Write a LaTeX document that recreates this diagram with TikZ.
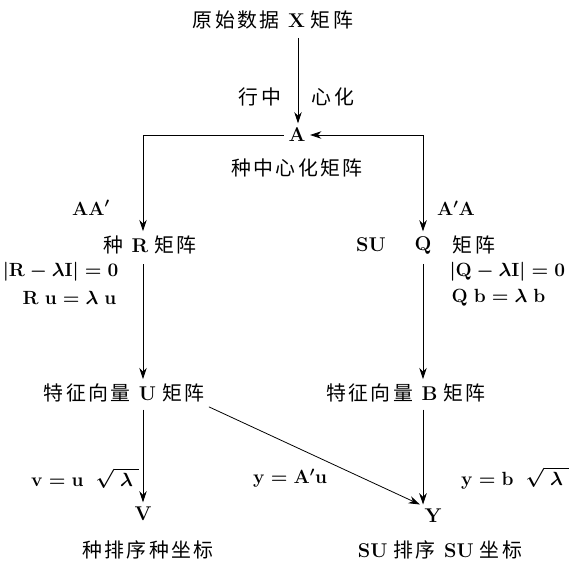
\documentclass[tikz,border=0pt]{standalone}
\usepackage{fontspec}
\newfontfamily\cjk{Noto Sans CJK SC}[LetterSpace=12]
\newcommand{\zh}[1]{{\cjk #1}}
\usetikzlibrary{arrows.meta}

\begin{document}
\begin{tikzpicture}[
    x=0.0265cm, y=-0.0265cm,
    font=\fontsize{15}{18}\selectfont,
    eq/.style={inner sep=1pt, font=\fontsize{14}{17}\selectfont\boldmath},
    map/.style={-{Stealth[length=3mm, width=2mm]}, semithick},
    twoway/.style={{Stealth[length=3mm, width=2mm]}-{Stealth[length=3mm, width=2mm]}, semithick},
]
    \useasboundingbox (0,0) rectangle (571,565);
    % matrices
    \node (data) at (273,20) {\zh{原始数据} \textbf{X} \zh{矩阵}};
    \node (A) at (297,135) {\textbf{A}};
    \node (center) at (297,168) {\zh{种中心化矩阵}};
    \node (R) at (150,245) {\zh{种} \textbf{R} \zh{矩阵}};
    \node (su) at (371,245) {\textbf{SU}};
    \node (Q) at (423,245) {\textbf{Q}};
    \node (Qmat) at (474,245) {\zh{矩阵}};
    \node (U) at (124,393) {\zh{特征向量} \textbf{U} \zh{矩阵}};
    \node (B) at (406,393) {\zh{特征向量} \textbf{B} \zh{矩阵}};
    \node (V) at (143,514) {\textbf{V}};
    \node (Y) at (433,516) {\textbf{Y}};
    \node (Vname) at (148,550) {\zh{种排序种坐标}};
    \node (Yname) at (440,550) {\textbf{SU} \zh{排序} \textbf{SU} \zh{坐标}};
    % corners of the split
    \coordinate (cl) at (143,135);
    \coordinate (cx) at (298,0);
    % labels
    \node (xing) at (260,97) {\zh{行中}};
    \node (xin) at (333,97) {\zh{心化}};
    \node[eq] (AAt) at (91,208) {$\mathbf{AA}'$};
    \node[eq] (AtA) at (456,208) {$\mathbf{A}'\mathbf{A}$};
    \node[eq, anchor=east] (eqR) at (120,272) {$|\mathbf{R}-\lambda\mathbf{I}|=0$};
    \node[eq, anchor=east] (solR) at (118,298) {$\mathbf{R}\ \mathbf{u}=\lambda\ \mathbf{u}$};
    \node[eq, anchor=west] (eqQ) at (448,272) {$|\mathbf{Q}-\lambda\mathbf{I}|=0$};
    \node[eq, anchor=west] (solQ) at (450,298) {$\mathbf{Q}\ \mathbf{b}=\lambda\ \mathbf{b}$};
    \node[eq] (vform) at (85,478) {$\mathbf{v}=\mathbf{u}\ \ \sqrt{\ \lambda\ }$};
    \node[eq] (yform) at (290,478) {$\mathbf{y}=\mathbf{A}'\mathbf{u}$};
    \node[eq] (yformB) at (515,478) {$\mathbf{y}=\mathbf{b}\ \ \sqrt{\ \lambda\ }$};
    % connectors
    \draw[map, shorten <=3pt] (data.south -| cx) -- (A.north -| cx);
    \draw[map] (A.west) -| (R.north -| cl);
    \draw[twoway] (A.east) -| (Q.north);
    \draw[map, shorten <=4pt] (R.south -| cl) -- (U.north -| cl);
    \draw[map, shorten <=4pt] (Q.south) -- (B.north -| Q);
    \draw[map, shorten <=2pt] (U.south -| cl) -- (V.north);
    \draw[map, shorten <=2pt] (B.south -| Q) -- (Y.north -| Q);
    \draw[map] (U.south east) -- (Y.north west);
\end{tikzpicture}
\end{document}
